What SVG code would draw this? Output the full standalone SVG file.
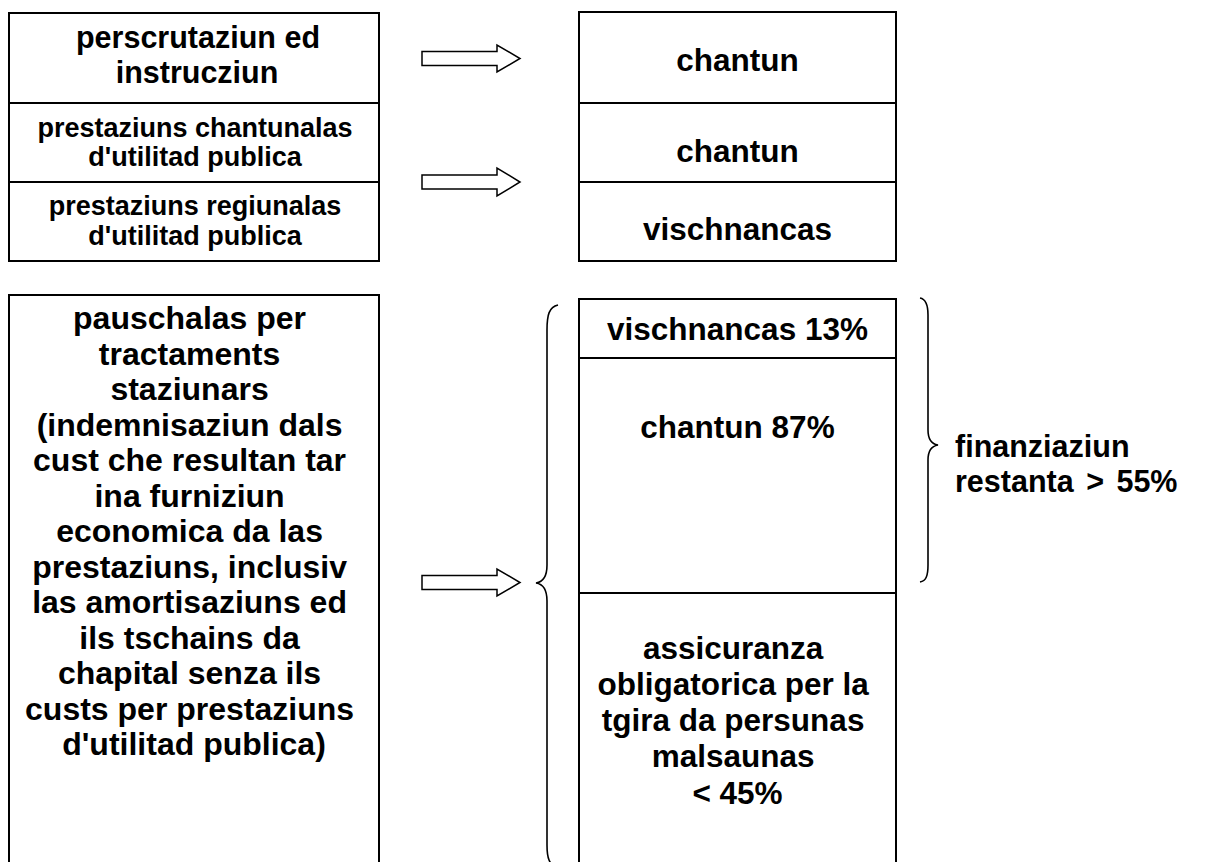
<svg xmlns="http://www.w3.org/2000/svg" width="1212" height="862" viewBox="0 0 1212 862">
<style>
.box{fill:#fff;stroke:#000;stroke-width:2}
.div{stroke:#000;stroke-width:2}
.t{font-family:"Liberation Sans",Arial,sans-serif;font-weight:bold;fill:#000;text-anchor:middle}
.arr{fill:#fff;stroke:#000;stroke-width:1.5;stroke-linejoin:miter}
.brace{fill:none;stroke:#000;stroke-width:1.6}
</style>
<rect width="1212" height="862" fill="#fff"/>
<g id="left-top">
<rect class="box" x="9" y="13" width="370" height="248"/>
<line class="div" x1="9" y1="103" x2="379" y2="103"/>
<line class="div" x1="9" y1="182" x2="379" y2="182"/>
<text class="t" font-size="30.5"><tspan x="198" y="48">perscrutaziun ed</tspan><tspan x="197" y="83">instrucziun</tspan></text>
<text class="t" font-size="27"><tspan x="195" y="137">prestaziuns chantunalas</tspan><tspan x="195" y="166">d'utilitad publica</tspan></text>
<text class="t" font-size="27"><tspan x="195" y="215">prestaziuns regiunalas</tspan><tspan x="195" y="245">d'utilitad publica</tspan></text>
</g>
<g id="right-top">
<rect class="box" x="579" y="12" width="317" height="249"/>
<line class="div" x1="579" y1="103" x2="896" y2="103"/>
<line class="div" x1="579" y1="182" x2="896" y2="182"/>
<text class="t" font-size="31.5" x="737.5" y="71">chantun</text>
<text class="t" font-size="31.5" x="737.5" y="162">chantun</text>
<text class="t" font-size="31.5" x="737.5" y="240">vischnancas</text>
</g>
<g id="left-bottom">
<rect class="box" x="9" y="295" width="370" height="580"/>
<text class="t" font-size="32">
<tspan x="194" y="329">pauschalas per</tspan>
<tspan x="194" y="364.5">tractaments</tspan>
<tspan x="194" y="400">staziunars</tspan>
<tspan x="194" y="435.5">(indemnisaziun dals</tspan>
<tspan x="194" y="471">cust che resultan tar</tspan>
<tspan x="194" y="506.5">ina furniziun</tspan>
<tspan x="194" y="542">economica da las</tspan>
<tspan x="194" y="577.5">prestaziuns, inclusiv</tspan>
<tspan x="194" y="613">las amortisaziuns ed</tspan>
<tspan x="194" y="648.5">ils tschains da</tspan>
<tspan x="194" y="684">chapital senza ils</tspan>
<tspan x="194" y="719.5">custs per prestaziuns</tspan>
<tspan x="194" y="755">d'utilitad publica)</tspan>
</text>
</g>
<g id="right-bottom">
<rect class="box" x="579" y="299" width="317" height="576"/>
<line class="div" x1="579" y1="358" x2="896" y2="358"/>
<line class="div" x1="579" y1="593" x2="896" y2="593"/>
<text class="t" font-size="31.5" x="737.5" y="340">vischnancas 13%</text>
<text class="t" font-size="31.5" x="737.5" y="438">chantun 87%</text>
<text class="t" font-size="31.5">
<tspan x="737.5" y="659">assicuranza</tspan>
<tspan x="737.5" y="695">obligatorica per la</tspan>
<tspan x="737.5" y="731">tgira da persunas</tspan>
<tspan x="737.5" y="767">malsaunas</tspan>
<tspan x="737.5" y="804">&lt; 45%</tspan>
</text>
</g>
<g id="label-finanziaziun">
<text class="t" font-size="30.5" style="text-anchor:start"><tspan x="955" y="457">finanziaziun</tspan><tspan x="955" y="492" word-spacing="4">restanta &gt; 55%</tspan></text>
</g>
<g id="connectors">
<polygon class="arr" points="422,51.5 497,51.5 497,45 520,58.5 497,72 497,65.5 422,65.5"/>
<polygon class="arr" points="422,175 497,175 497,168 520,182 497,196 497,189 422,189"/>
<polygon class="arr" points="422,575.5 497,575.5 497,569 520,582.5 497,596 497,589.5 422,589.5"/>
<path class="brace" d="M558,305 C549,307 547,315 547,330 L547,565 C547,577 543,582 536,583 C543,584 547,589 547,601 L547,845 C547,858 549,865 558,868"/>
<path class="brace" d="M920,298 C926,299 928,305 928,315 L928,430 C928,440 932,444 938,445 C932,446 928,450 928,460 L928,565 C928,576 926,581 920,582"/>
</g>
</svg>
